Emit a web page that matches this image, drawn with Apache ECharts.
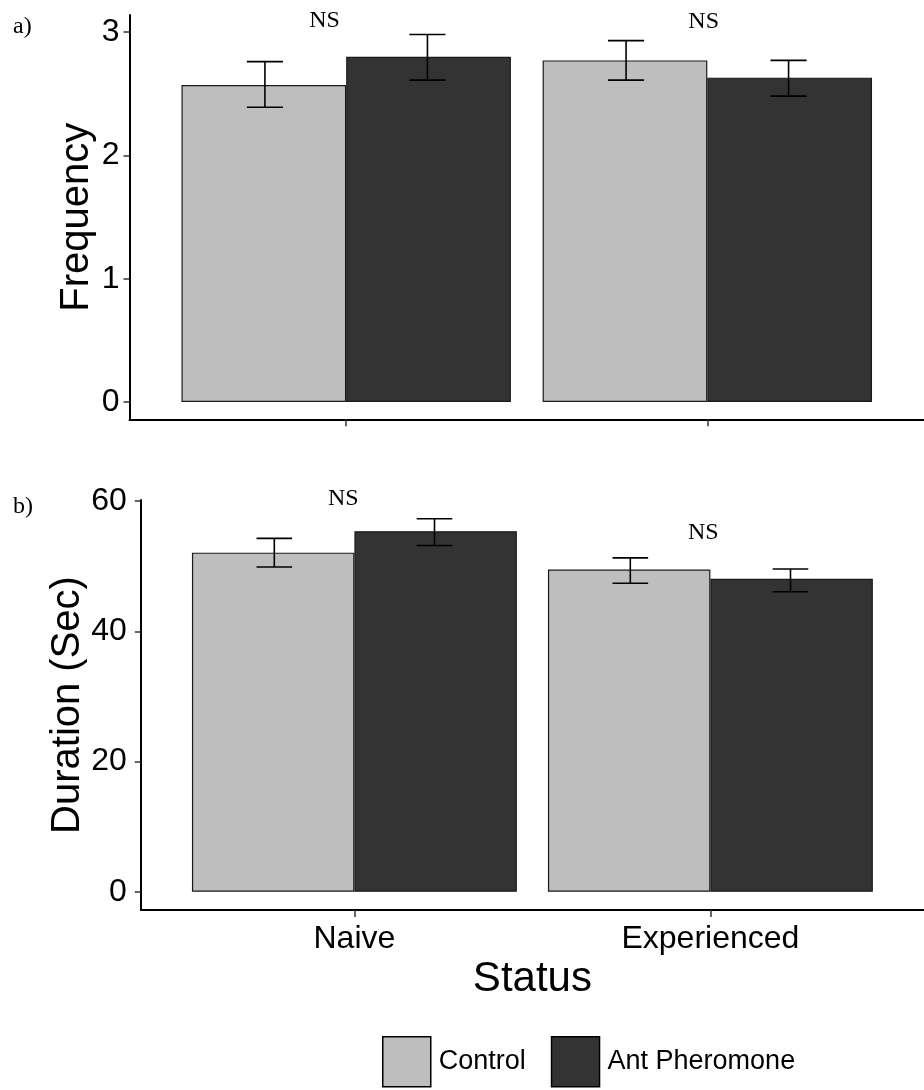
<!DOCTYPE html>
<html><head><meta charset="utf-8">
<script src="https://cdn.jsdelivr.net/npm/echarts@6/dist/echarts.min.js"></script>
<style>html,body{margin:0;padding:0;background:#fff}#c{width:924px;height:1090px}</style>
</head><body><div id="c"></div>
<script>
// ---- data ----
const categories = ['Naive', 'Experienced'];
const seriesNames = ['Control', 'Ant Pheromone'];
const freqControl = [2.57, 2.77];
const freqControlLow = [2.39, 2.61];
const freqControlHigh = [2.76, 2.93];
const freqAnt = [2.80, 2.63];
const freqAntLow = [2.61, 2.48];
const freqAntHigh = [2.98, 2.77];
const durControl = [52.1, 49.5];
const durControlLow = [49.9, 47.4];
const durControlHigh = [54.3, 51.3];
const durAnt = [55.4, 48.1];
const durAntLow = [53.2, 46.1];
const durAntHigh = [57.3, 49.6];
const freqTicks = [0, 1, 2, 3];
const durTicks = [0, 20, 40, 60];
const nsLabels = ['NS', 'NS'];
const nsFreqX = [0.94, 1.99];
const nsFreqY = [3.09, 3.08];
const nsDurX = [0.969, 1.98];
const nsDurY = [60.46, 55.1];

// ---- styling/layout ----
const COLORS = ['#bebebe', '#333333'];
const DODGE = 0.225, BARW = 0.45, CAPW = 0.1;
const SANS = '"Liberation Sans", Arial, sans-serif';
const SERIF = '"Liberation Serif", "Times New Roman", serif';
const grids = [
  {left: 129.5, top: 15, width: 805.2, height: 404.3},
  {left: 140.8, top: 500, width: 794.2, height: 410}
];
const catPos = categories.map((c, i) => i + 1);

function xAxisCfg(gi, showLabels) {
  return {
    type: 'value', gridIndex: gi, min: 0.4, max: 2.6,
    splitLine: {show: false},
    axisLine: {onZero: false, lineStyle: {color: '#000', width: 2}},
    axisTick: {show: true, length: 7, customValues: catPos, lineStyle: {color: '#333', width: 1.5}},
    axisLabel: {show: showLabels, customValues: catPos, margin: 13,
      formatter: v => categories[Math.round(v) - 1] || '',
      color: '#000', fontSize: 32, fontFamily: SANS},
    name: showLabels ? 'Status' : '', nameLocation: 'middle', nameGap: 48,
    nameTextStyle: {color: '#000', fontSize: 42, fontFamily: SANS}
  };
}
function yAxisCfg(gi, min, max, ticks, name, nameGap, margin, fs) {
  return {
    type: 'value', gridIndex: gi, min: min, max: max,
    splitLine: {show: false},
    axisLine: {show: true, onZero: false, lineStyle: {color: '#000', width: 2}},
    axisTick: {show: true, length: 6, customValues: ticks, lineStyle: {color: '#333', width: 1.5}},
    axisLabel: {customValues: ticks, margin: margin, color: '#000', fontSize: fs, fontFamily: SANS},
    name: name, nameLocation: 'middle', nameGap: nameGap, nameMoveOverlap: false,
    nameTextStyle: {color: '#000', fontSize: 40, fontFamily: SANS}
  };
}
function barSeries(gi, name, vals, color, bw) {
  return {
    type: 'bar', name: name, xAxisIndex: gi, yAxisIndex: gi,
    data: vals.map((v, i) => [catPos[i], v]),
    barWidth: bw, barGap: '0%',
    itemStyle: {color: color, borderColor: '#1a1a1a', borderWidth: 1.2},
    emphasis: {disabled: true}, animation: false
  };
}
function errSeries(gi, name, lows, highs, offset) {
  return {
    type: 'custom', name: name, xAxisIndex: gi, yAxisIndex: gi,
    data: lows.map((l, i) => [catPos[i], l, highs[i]]),
    renderItem: function (params, api) {
      const x = api.value(0) + offset;
      const lo = api.coord([x, api.value(1)]);
      const hi = api.coord([x, api.value(2)]);
      const hw = api.size([CAPW, 0])[0] / 2;
      const st = {stroke: '#000', lineWidth: 1.6};
      return {type: 'group', children: [
        {type: 'line', shape: {x1: lo[0], y1: lo[1], x2: hi[0], y2: hi[1]}, style: st},
        {type: 'line', shape: {x1: hi[0] - hw, y1: hi[1], x2: hi[0] + hw, y2: hi[1]}, style: st},
        {type: 'line', shape: {x1: lo[0] - hw, y1: lo[1], x2: lo[0] + hw, y2: lo[1]}, style: st}
      ]};
    },
    silent: true, animation: false, z: 5
  };
}
function nsSeries(gi, xs, ys) {
  return {
    type: 'custom', xAxisIndex: gi, yAxisIndex: gi, clip: false,
    data: xs.map((x, i) => [x, ys[i]]),
    renderItem: function (params, api) {
      const p = api.coord([api.value(0), api.value(1)]);
      return {type: 'text', x: p[0], y: p[1], style: {
        text: nsLabels[params.dataIndex], fill: '#000', align: 'center', verticalAlign: 'middle',
        font: '24px ' + SERIF}};
    },
    silent: true, animation: false, z: 6
  };
}

const bw1 = grids[0].width / 2.2 * BARW;
const bw2 = grids[1].width / 2.2 * BARW;

const chart = echarts.init(document.getElementById('c'), null, {renderer: 'canvas'});
chart.setOption({
  animation: false,
  backgroundColor: '#fff',
  grid: grids,
  xAxis: [xAxisCfg(0, false), xAxisCfg(1, true)],
  yAxis: [
    yAxisCfg(0, -0.14, 3.138, freqTicks, 'Frequency', 33, 10, 32),
    yAxisCfg(1, -2.8, 60.19, durTicks, 'Duration (Sec)', 53, 14, 32)
  ],
  legend: {
    data: seriesNames, left: 377, top: 1031, itemWidth: 48, itemHeight: 50, itemGap: 25,
    icon: 'rect',
    textStyle: {color: '#000', fontSize: 27, fontFamily: SANS, padding: [0, 0, 0, 3]},
    itemStyle: {borderColor: '#000', borderWidth: 1.5}
  },
  graphic: [
    {type: 'text', left: 13, top: 15, style: {text: 'a)', font: '24px ' + SERIF, fill: '#000'}},
    {type: 'text', left: 13, top: 495, style: {text: 'b)', font: '24px ' + SERIF, fill: '#000'}}
  ],
  series: [
    barSeries(0, seriesNames[0], freqControl, COLORS[0], bw1),
    barSeries(0, seriesNames[1], freqAnt, COLORS[1], bw1),
    errSeries(0, 'errC0', freqControlLow, freqControlHigh, -DODGE),
    errSeries(0, 'errA0', freqAntLow, freqAntHigh, DODGE),
    nsSeries(0, nsFreqX, nsFreqY),
    barSeries(1, seriesNames[0], durControl, COLORS[0], bw2),
    barSeries(1, seriesNames[1], durAnt, COLORS[1], bw2),
    errSeries(1, 'errC1', durControlLow, durControlHigh, -DODGE),
    errSeries(1, 'errA1', durAntLow, durAntHigh, DODGE),
    nsSeries(1, nsDurX, nsDurY)
  ]
});
</script></body></html>
